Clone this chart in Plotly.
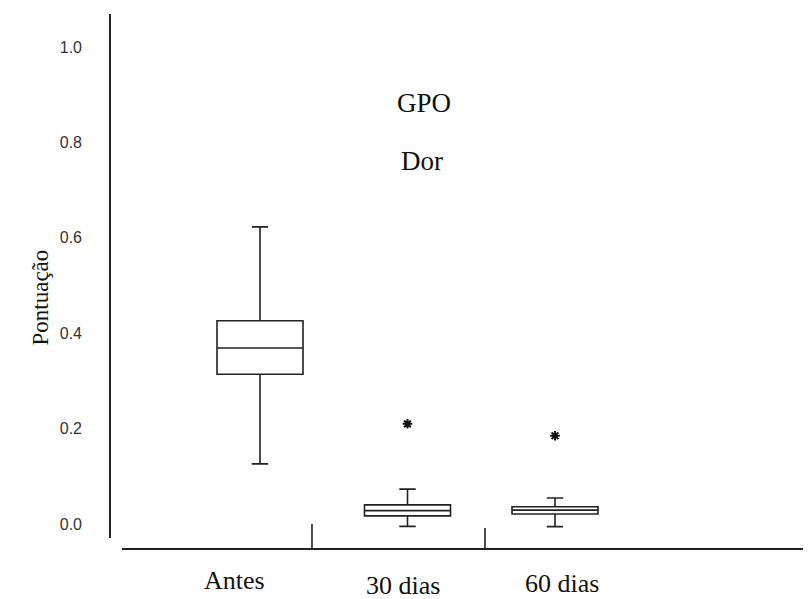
import plotly.graph_objects as go

# ---- data ----
categories = ["Antes", "30 dias", "60 dias"]
positions = [1, 2, 3]
lower_whisker = [0.126, -0.005, -0.0055]
q1_vals = [0.314, 0.017, 0.021]
median_vals = [0.369, 0.028, 0.029]
q3_vals = [0.426, 0.040, 0.036]
upper_whisker = [0.623, 0.073, 0.0545]
outlier_pos = [2, 3]
outlier_vals = [0.210, 0.185]
ytick_vals = [0.0, 0.2, 0.4, 0.6, 0.8, 1.0]
ytick_text = ["0.0", "0.2", "0.4", "0.6", "0.8", "1.0"]
title_lines = ["GPO", "Dor"]
y_title = "Pontuação"

# label placement (x in data units, y in paper units)
label_x = [0.83, 1.97, 3.05]
label_y = [-0.037, -0.046, -0.043]

LINE = "#222222"
SERIF = "Liberation Serif"
SANS = "Liberation Sans"

# page has an 8px body margin; figure is sized to fit inside the window
W, H = 803, 591
ML, MR, MT, MB = 92, 0, 4, 39
pw, ph = W - ML - MR, H - MT - MB

fig = go.Figure()
fig.add_trace(go.Box(
    x=positions, q1=q1_vals, median=median_vals, q3=q3_vals,
    lowerfence=lower_whisker, upperfence=upper_whisker,
    width=0.583, whiskerwidth=0.19, boxpoints=False,
    fillcolor="white", line=dict(color=LINE, width=1.6),
    showlegend=False, hoverinfo="skip",
))
fig.add_trace(go.Scatter(
    x=outlier_pos, y=outlier_vals, mode="markers",
    marker=dict(symbol="asterisk-open", size=8, color="#111111",
                line=dict(color="#111111", width=2)),
    showlegend=False, hoverinfo="skip",
))

# axis decoration lines (frame pieces, in data units)
y_axis_x = -0.01695
y_axis_top, y_axis_bot = 1.069, -0.0294
x_axis_y = -0.0524
x_axis_left, x_axis_right = 0.0644, 4.715
dividers = [(1.3525, 0.0), (2.5254, -0.0084)]

shapes = [
    dict(type="line", xref="x", yref="y", x0=y_axis_x, x1=y_axis_x,
         y0=y_axis_bot, y1=y_axis_top, line=dict(color=LINE, width=2)),
    dict(type="line", xref="x", yref="y", x0=x_axis_left, x1=x_axis_right,
         y0=x_axis_y, y1=x_axis_y, line=dict(color=LINE, width=2)),
]
for dx, dtop in dividers:
    shapes.append(dict(type="line", xref="x", yref="y", x0=dx, x1=dx,
                       y0=x_axis_y, y1=dtop, line=dict(color=LINE, width=1.6)))

annotations = []
for lab, lx, ly in zip(categories, label_x, label_y):
    annotations.append(dict(text=lab, x=lx, y=ly, xref="x", yref="paper",
                            showarrow=False, font=dict(family=SERIF, size=26, color="#111111"),
                            xanchor="center", yanchor="middle"))
annotations.append(dict(text=title_lines[0], x=2.11, y=0.883, xref="x", yref="y",
                        showarrow=False, font=dict(family=SERIF, size=27, color="#111111")))
annotations.append(dict(text=title_lines[1], x=2.1, y=0.762, xref="x", yref="y",
                        showarrow=False, font=dict(family=SERIF, size=27, color="#111111")))
# y title: page pixel (25, 298) -> figure pixel (17, 290)
annotations.append(dict(text=y_title, x=(17 - ML) / pw, y=(H - MB - 290) / ph,
                        xref="paper", yref="paper", showarrow=False, textangle=-90,
                        font=dict(family=SERIF, size=23, color="#111111")))

fig.update_layout(
    width=W, height=H,
    margin=dict(l=ML, r=MR, t=MT, b=MB),
    plot_bgcolor="white", paper_bgcolor="white",
    shapes=shapes, annotations=annotations,
    xaxis=dict(range=[-0.0847, 4.7356], showgrid=False, zeroline=False,
               showline=False, showticklabels=False, ticks=""),
    yaxis=dict(range=[-0.0755, 1.0734], showgrid=False, zeroline=False,
               showline=False, tickvals=ytick_vals, ticktext=ytick_text,
               ticks="", ticklabelstandoff=17,
               tickfont=dict(family=SANS, size=16, color="#333333")),
)

fig.write_html("out.html")
